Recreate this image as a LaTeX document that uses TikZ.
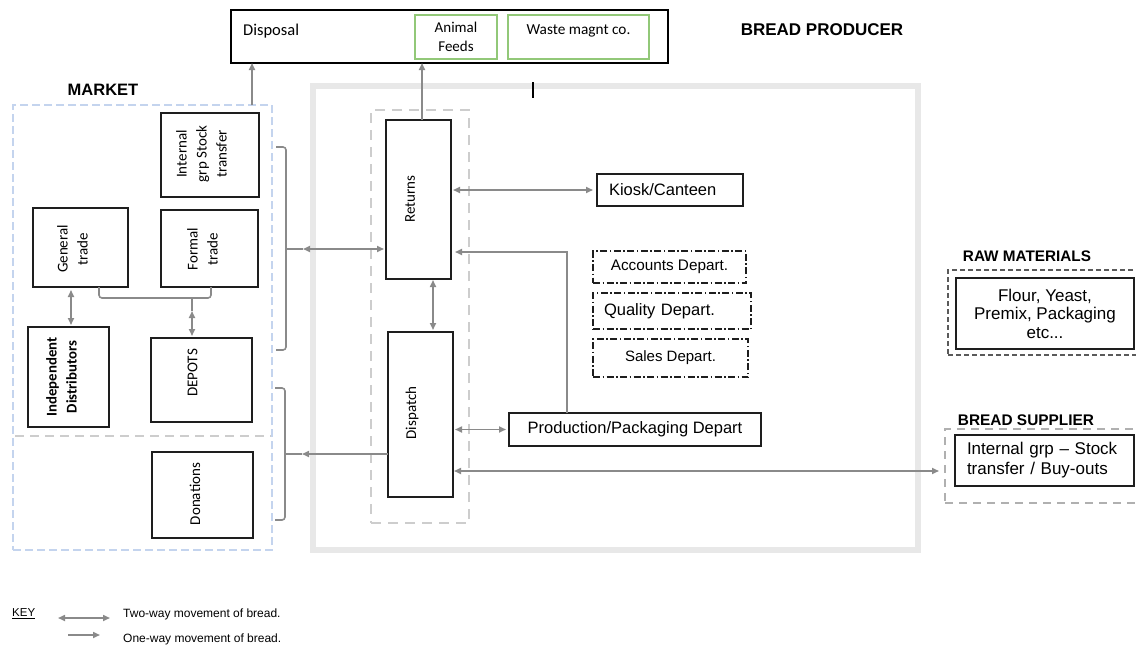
\documentclass[tikz,border=0pt]{standalone}
\usepackage{fontspec}
\setmainfont{Liberation Sans}
\newfontfamily\calfont{Carlito}
\usetikzlibrary{arrows.meta}

\definecolor{connc}{RGB}{138,138,138}
\definecolor{boxline}{RGB}{30,30,30}
\definecolor{grn}{RGB}{146,200,120}
\definecolor{mblue}{RGB}{196,212,238}
\definecolor{dgray}{RGB}{205,205,205}
\definecolor{framec}{RGB}{232,232,232}
\definecolor{supgray}{RGB}{176,176,176}
\definecolor{rawgray}{RGB}{90,90,90}

\tikzset{
  box/.style={draw=boxline, line width=1.5pt, inner sep=0pt, outer sep=0pt},
  gbox/.style={draw=grn, line width=1.5pt, inner sep=0pt, outer sep=0pt},
  ddbox/.style={draw=boxline, line width=1.3pt, inner sep=0pt, outer sep=0pt,
     dash pattern=on 7pt off 2.5pt on 1.5pt off 2.5pt},
  mkbox/.style={draw=mblue, line width=2pt, dash pattern=on 8pt off 4pt, inner sep=0pt, outer sep=0pt},
  grpbox/.style={draw=dgray, line width=2pt, dash pattern=on 10pt off 7pt, inner sep=0pt, outer sep=0pt},
  frbox/.style={draw=framec, line width=6pt, inner sep=0pt, outer sep=0pt},
  rawbox/.style={draw=rawgray, line width=1.1pt, dash pattern=on 5pt off 3pt, inner sep=0pt, outer sep=0pt},
  supbox/.style={draw=supgray, line width=1.8pt, dash pattern=on 8pt off 6pt, inner sep=0pt, outer sep=0pt},
  conn/.style={draw=connc, line width=1.6pt},
  two/.style={conn, {Triangle[length=7pt,width=6pt]}-{Triangle[length=7pt,width=6pt]}},
  one/.style={conn, -{Triangle[length=7pt,width=6pt]}},
  vtext/.style={rotate=90, align=center, inner sep=0pt, font=\calfont\fontsize{15}{20}\selectfont},
  atext/.style={font=\fontsize{16.5}{19}\selectfont},
  head/.style={font=\bfseries\fontsize{16.5}{19}\selectfont, inner sep=0pt},
  keytext/.style={font=\fontsize{12}{14}\selectfont, inner sep=0pt, anchor=west},
}

\begin{document}
\begin{tikzpicture}[x=1pt,y=-1pt]
\useasboundingbox (0,0) rectangle (1136,645);
\clip (0,0) rectangle (1136,645);

% containers
\node[frbox, minimum width=605pt, minimum height=464pt] (producer) at (615.5,318) {};
\node[mkbox, minimum width=259pt, minimum height=445pt] (market) at (142.5,327.5) {};
\draw[draw=dgray, line width=2pt, dash pattern=on 9pt off 6pt] (15,436) -- (271,436);
\node[grpbox, minimum width=98pt, minimum height=413pt] (rdgroup) at (420,316.5) {};
\draw[black, line width=1.8pt] (533,82) -- (533,98);

% disposal
\node[box, draw=black, line width=2.5pt, minimum width=437pt, minimum height=53pt] (disposal) at (449.5,36.5) {};
\node[anchor=west, inner sep=0pt, font=\calfont\fontsize{16.5}{19}\selectfont] (disposaltxt) at (243,31) {Disposal};
\node[gbox, minimum width=82pt, minimum height=44pt, align=center, font=\calfont\fontsize{15}{19}\selectfont] (animal) at (456,37) {Animal\\Feeds};
\node[gbox, minimum width=141pt, minimum height=44pt] (waste) at (578.5,37) {};
\node[inner sep=0pt, font=\calfont\fontsize{15.3}{19}\selectfont] (wastetxt) at (578.5,31) {Waste magnt co.};

% headings
\node[head] (mkhead) at (103,90) {MARKET};
\node[head, font=\bfseries\fontsize{17}{19}\selectfont] (prodhead) at (822,30) {BREAD PRODUCER};
\node[head, font=\bfseries\fontsize{15.3}{18}\selectfont] (rawhead) at (1027,256) {RAW MATERIALS};
\node[head, font=\bfseries\fontsize{15.4}{18}\selectfont] (suphead) at (1026,420) {BREAD SUPPLIER};

% market boxes
\node[box, minimum width=98pt, minimum height=84pt] (internal) at (210,155) {};
\node[vtext] (tinternal) at (201.5,154) {Internal\\grp Stock\\transfer};
\node[box, minimum width=95pt, minimum height=79pt] (general) at (80.5,247.5) {};
\node[vtext] (tgeneral) at (72.5,249) {General\\trade};
\node[box, minimum width=97pt, minimum height=77pt] (formal) at (209.5,248.5) {};
\node[vtext] (tformal) at (202.5,249) {Formal\\trade};
\node[box, minimum width=81pt, minimum height=100pt] (indep) at (68.5,377) {};
\node[vtext, font=\calfont\bfseries\fontsize{14.8}{20}\selectfont] (tindep) at (61.5,377) {Independent\\Distributors};
\node[box, minimum width=101pt, minimum height=84pt] (depots) at (201.5,380) {};
\node[vtext] (tdepots) at (192.5,373) {DEPOTS};
\node[box, minimum width=101pt, minimum height=86pt] (donations) at (202.5,495) {};
\node[vtext] (tdonations) at (195,494) {Donations};

% producer boxes
\node[box, minimum width=65pt, minimum height=159pt] (returns) at (418.5,199.5) {};
\node[vtext] (treturns) at (410,199) {Returns};
\node[box, minimum width=65pt, minimum height=165pt] (dispatch) at (420.5,414.5) {};
\node[vtext] (tdispatch) at (412,413) {Dispatch};
\node[box, atext, minimum width=146pt, minimum height=32pt, inner xsep=12pt, text width=122pt, align=left] (kiosk) at (670,190) {Kiosk/Canteen};
\node[box, atext, minimum width=252pt, minimum height=33pt] (production) at (635,429.5) {Production/Packaging Depart};
\node[ddbox, font=\fontsize{15.3}{18}\selectfont, minimum width=153pt, minimum height=32pt] (accounts) at (669.5,267) {Accounts Depart.};
\node[ddbox, atext, minimum width=158pt, minimum height=36pt, inner xsep=11pt, text width=136pt, align=left] (quality) at (672,311) {Quality Depart.};
\node[ddbox, font=\fontsize{15}{18}\selectfont, minimum width=155pt, minimum height=38pt] (sales) at (670.5,358) {Sales Depart.};

% right side
\node[rawbox, minimum width=194pt, minimum height=85pt] (rawouter) at (1045,312.5) {};
\node[box, minimum width=178pt, minimum height=71pt, align=center, font=\fontsize{17}{18.5}\selectfont] (rawinner) at (1045,313.5) {Flour, Yeast,\\Premix, Packaging\\etc...};
\node[supbox, minimum width=197pt, minimum height=74pt] (supouter) at (1043.5,466) {};
\node[box, minimum width=179pt, minimum height=51pt, inner xsep=12pt, text width=155pt, align=left, font=\fontsize{17}{20}\selectfont] (supinner) at (1044.5,460.5) {Internal grp -- Stock\\transfer / Buy-outs};

% helper coordinates
\coordinate (xmk) at (252,90);
\coordinate (xaf) at (422,90);
\coordinate (pr) at (567,252);
\coordinate (rd) at (433,300);
\coordinate (lg) at (700,471);
\coordinate (b1a) at (276,147);
\coordinate (b1b) at (286,147);
\coordinate (b1c) at (286,350);
\coordinate (b1d) at (276,350);
\coordinate (b1m) at (286,249);
\coordinate (b1t) at (303,249);
\coordinate (b2a) at (275,388);
\coordinate (b2b) at (285,388);
\coordinate (b2c) at (285,520);
\coordinate (b2d) at (275,520);
\coordinate (b2m) at (285,454);
\coordinate (b2t) at (302,454);
\coordinate (gf1) at (99,298);
\coordinate (gf2) at (211,298);
\coordinate (gfd) at (192,298);
\coordinate (gfa) at (192,311);
\coordinate (gi) at (71,300);

% connectors
\draw[one] (market.north -| xmk) -- (disposal.south -| xmk);
\draw[one] (returns.north -| xaf) -- (disposal.south -| xaf);
\draw[two, shorten <=2pt, shorten >=4pt] (returns.east |- kiosk.west) -- (kiosk.west);
\draw[one, shorten >=4pt] (production.north -| pr) -- (pr) -- (pr -| returns.east);
\draw[two, shorten <=1pt, shorten >=2pt] (returns.south -| rd) -- (dispatch.north -| rd);
\draw[two, shorten <=2pt, shorten >=3pt] (production.west -| dispatch.east) -- (production.west);
\draw[two, shorten <=1pt, shorten >=6pt] (dispatch.east |- lg) -- (supouter.west |- lg);

\draw[conn, rounded corners=3pt] (b1a) -- (b1b) -- (b1c) -- (b1d);
\draw[conn] (b1m) -- (b1t);
\draw[two, shorten >=2pt] (b1t) -- (returns.west |- b1t);

\draw[conn, rounded corners=3pt] (b2a) -- (b2b) -- (b2c) -- (b2d);
\draw[one] (dispatch.west |- b2t) -- (b2t);
\draw[conn] (b2t) -- (b2m);

\draw[conn, rounded corners=3pt] (general.south -| gf1) -- (gf1) -- (gf2) -- (formal.south -| gf2);
\draw[conn] (gfd) -- (gfa);
\draw[two, shorten >=2pt] (gfa) -- (depots.north -| gfa);
\draw[two, shorten <=3pt, shorten >=2pt] (general.south -| gi) -- (indep.north -| gi);

% key
\node[keytext, font=\fontsize{11.5}{14}\selectfont] (keyhead) at (12,614) {\underline{KEY}};
\coordinate (k1a) at (58,618);
\coordinate (k1b) at (110,618);
\coordinate (k2a) at (68,635);
\coordinate (k2b) at (100,635);
\draw[two] (k1a) -- (k1b);
\draw[one] (k2a) -- (k2b);
\node[keytext] (key1) at (123,614) {Two-way movement of bread.};
\node[keytext] (key2) at (123,639) {One-way movement of bread.};
\end{tikzpicture}
\end{document}
